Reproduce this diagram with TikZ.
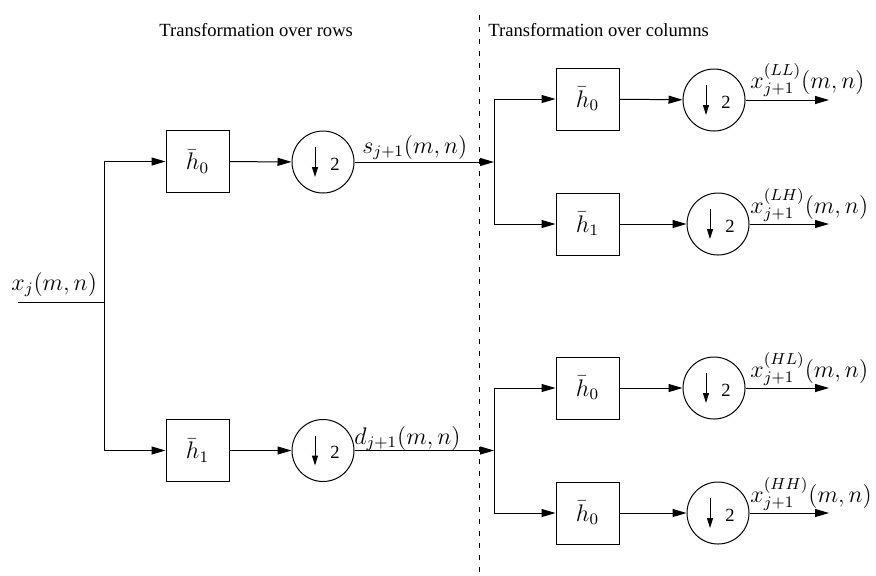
\documentclass[tikz,border=0pt]{standalone}
\usepackage{fontspec}
\newfontfamily\titlefont{Liberation Serif}
\usetikzlibrary{arrows.meta}
\tikzset{
  every node/.style={font=\fontsize{12}{14}\selectfont},
  filterbox/.style={draw, line width=0.5pt, minimum width=31.5pt, minimum height=31pt, inner sep=0pt},
  downbox/.style={draw, circle, line width=0.5pt, minimum size=31pt, inner sep=0pt},
  conn/.style={line width=0.5pt},
  arr/.style={conn, -{Triangle[length=7pt,width=4pt]}},
  smallarr/.style={line width=0.5pt, -{Triangle[length=5pt,width=3pt]}},
  lbl/.style={anchor=base west, inner sep=0pt},
  ttl/.style={anchor=base west, inner sep=0pt, font=\titlefont\fontsize{9.3}{11}\selectfont},
  sep/.style={line width=0.5pt, dash pattern=on 2.5pt off 3.5pt}
}
\newcommand{\downtwo}[1]{%
  \draw[smallarr] ([xshift=-4pt,yshift=7.5pt]#1.center) -- ([xshift=-4pt,yshift=-7.5pt]#1.center);
  \node[inner sep=0pt, font=\titlefont\fontsize{9.3}{11}\selectfont] at ([xshift=6pt,yshift=-1pt]#1.center) {2};}
\begin{document}
\begin{tikzpicture}[x=0.5pt,y=-0.5pt]
\useasboundingbox (0,0) rectangle (876,575);
% titles
\node[ttl] (t1) at (159,36) {Transformation over rows};
\node[ttl] (t2) at (488,36) {Transformation over columns};
% separator
\coordinate (s1) at (479,15);
\coordinate (s2) at (479,575);
\draw[sep] (s1) -- (s2);
% stage 1
\coordinate (in) at (18,302);
\coordinate (j1) at (104,302);
\node[filterbox] (b1) at (197.5,161.5) {$\bar h_0$};
\node[filterbox] (b2) at (197.5,450.5) {$\bar h_1$};
\node[downbox] (c1) at (323,162) {};
\node[downbox] (c2) at (323,450.5) {};
\downtwo{c1}
\downtwo{c2}
\draw[conn] (in) -- (j1);
\draw[arr] (j1) |- (b1.west);
\draw[arr] (j1) |- (b2.west);
\draw[arr] (b1) -- (c1);
\draw[arr] (b2) -- (c2);
\node[lbl] (lx) at (11,290) {$x_j(m,n)$};
\coordinate (j2) at (494,162);
\coordinate (j3) at (494,450.5);
\draw[arr] (c1) -- (j2);
\draw[arr] (c2) -- (j3);
\node[lbl] (ls) at (362,153) {$s_{j+1}(m,n)$};
\node[lbl] (ld) at (354,444) {$d_{j+1}(m,n)$};
% stage 2
\node[filterbox] (b3) at (587.5,99) {$\bar h_0$};
\node[filterbox] (b4) at (587.5,224) {$\bar h_1$};
\node[filterbox] (b5) at (587.5,388) {$\bar h_0$};
\node[filterbox] (b6) at (587.5,513) {$\bar h_0$};
\node[downbox] (c3) at (714,100) {};
\node[downbox] (c4) at (718,224) {};
\node[downbox] (c5) at (714,388) {};
\node[downbox] (c6) at (718,513) {};
\downtwo{c3}
\downtwo{c4}
\downtwo{c5}
\downtwo{c6}
\draw[arr] (j2) |- (b3.west);
\draw[arr] (j2) |- (b4.west);
\draw[arr] (j3) |- (b5.west);
\draw[arr] (j3) |- (b6.west);
\draw[arr] (b3) -- (c3);
\draw[arr] (b4) -- (c4);
\draw[arr] (b5) -- (c5);
\draw[arr] (b6) -- (c6);
\coordinate (o3) at (829,100);
\coordinate (o4) at (829,224);
\coordinate (o5) at (829,388);
\coordinate (o6) at (829,513);
\draw[arr] (c3) -- (o3);
\draw[arr] (c4) -- (o4);
\draw[arr] (c5) -- (o5);
\draw[arr] (c6) -- (o6);
\node[lbl] (l3) at (750,88) {$x_{j+1}^{(LL)}(m,n)$};
\node[lbl] (l4) at (750,213) {$x_{j+1}^{(LH)}(m,n)$};
\node[lbl] (l5) at (750,377) {$x_{j+1}^{(HL)}(m,n)$};
\node[lbl] (l6) at (750,502) {$x_{j+1}^{(HH)}(m,n)$};
\end{tikzpicture}
\end{document}
